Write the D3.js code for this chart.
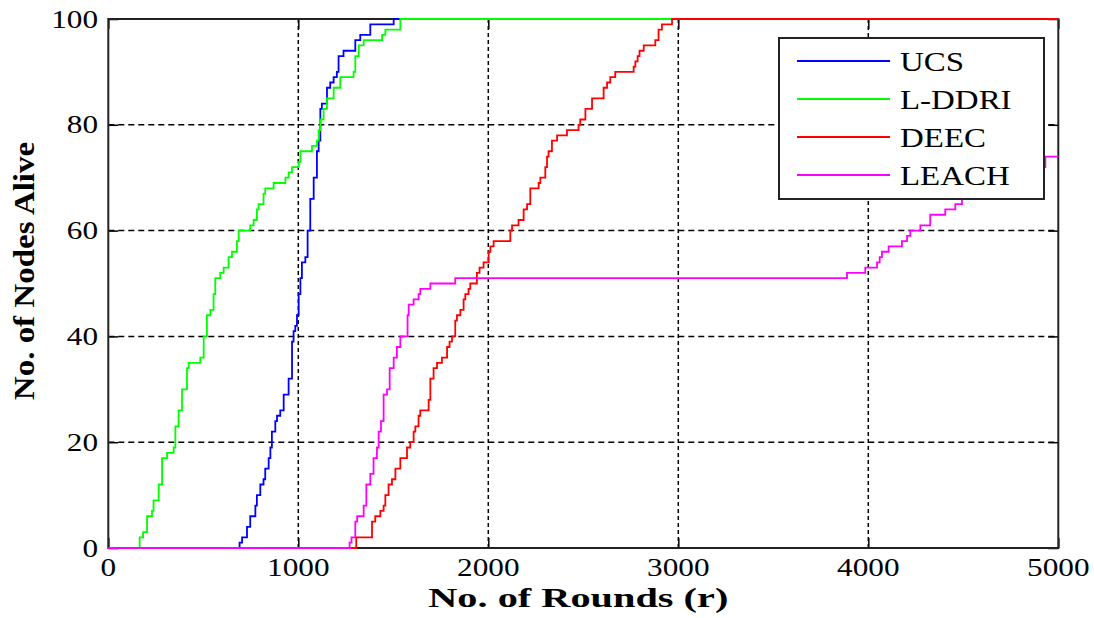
<!DOCTYPE html>
<html>
<head>
<meta charset="utf-8">
<script src="https://cdn.jsdelivr.net/npm/d3@7"></script>
<style>
  html, body { margin: 0; padding: 0; background: #fff; }
  svg { display: block; }
</style>
</head>
<body>
<svg id="chart" width="1094" height="618"></svg>
<script>
// ---- Data (rounds, nodes alive) ----
const seriesNames = ["UCS", "L-DDRI", "DEEC", "LEACH"];
const seriesColors = ["#0000ff", "#00ff00", "#ff0000", "#ff00ff"];

const ucs = [[0,0],[691,1],[704,2],[730,4],[747,6],[774,8],[782,10],[800,12],[817,13],[826,15],[844,17],[853,19],[861,22],[879,24],[888,25],[905,26],[923,29],[949,32],[967,39],[975,41],[984,42],[993,44],[1002,48],[1011,51],[1019,54],[1037,55],[1049,60],[1063,66],[1081,70],[1098,75],[1107,77],[1116,83],[1124,84],[1151,87],[1168,88],[1186,89],[1203,90],[1212,93],[1238,94],[1300,96],[1326,97],[1379,99],[1502,100],[5000,100]];

const lddri = [[0,0],[165,2],[183,3],[204,6],[230,7],[238,9],[265,12],[283,17],[309,18],[344,19],[353,23],[370,26],[388,30],[414,34],[423,35],[484,36],[502,40],[519,44],[537,45],[554,48],[563,51],[589,52],[607,53],[633,55],[651,56],[677,58],[686,60],[747,61],[765,62],[782,64],[791,65],[817,67],[826,68],[870,69],[932,70],[949,71],[967,72],[1002,73],[1011,75],[1072,76],[1098,77],[1107,79],[1116,81],[1133,83],[1151,85],[1186,87],[1221,89],[1291,90],[1300,93],[1318,95],[1344,96],[1441,97],[1458,98],[1537,100],[5000,100]];

const deec = [[0,0],[1305,2],[1388,5],[1405,6],[1432,7],[1449,8],[1458,10],[1475,12],[1493,13],[1511,15],[1537,17],[1572,19],[1589,20],[1607,22],[1616,23],[1633,25],[1642,26],[1686,28],[1695,32],[1712,34],[1730,35],[1756,36],[1783,38],[1796,39],[1809,40],[1826,43],[1835,44],[1853,45],[1870,47],[1879,48],[1896,49],[1905,50],[1940,52],[1954,53],[1975,54],[2002,56],[2011,57],[2028,58],[2116,60],[2125,61],[2159,62],[2186,64],[2204,65],[2221,68],[2265,69],[2274,70],[2300,72],[2309,74],[2317,75],[2335,77],[2362,78],[2414,79],[2475,80],[2484,81],[2511,83],[2546,85],[2607,87],[2625,88],[2642,89],[2668,90],[2765,91],[2774,92],[2786,93],[2796,94],[2818,95],[2879,96],[2896,98],[2914,99],[2967,100],[5000,100]];

const leach = [[0,0],[1270,1],[1280,2],[1300,5],[1310,6],[1344,8],[1358,12],[1379,14],[1396,17],[1414,19],[1423,22],[1435,24],[1449,29],[1467,30],[1481,34],[1502,36],[1519,38],[1537,40],[1575,44],[1581,46],[1607,47],[1633,48],[1642,49],[1695,50],[1826,51],[3888,52],[3984,53],[4046,54],[4060,55],[4072,56],[4107,57],[4177,58],[4204,59],[4221,60],[4274,61],[4326,63],[4405,64],[4458,65],[4493,66],[4530,67],[4600,68],[4680,69],[4760,70],[4830,71],[4890,72],[4932,74],[5000,74]];

const xTicks = [0, 1000, 2000, 3000, 4000, 5000];
const yTicks = [0, 20, 40, 60, 80, 100];
const xTitle = "No. of Rounds (r)";
const yTitle = "No. of Nodes Alive";

// ---- Layout ----
const svg = d3.select("#chart");
const L = 108.3, R = 1058.3, T = 19, B = 548;
const x = d3.scaleLinear().domain([0, 5000]).range([L, R]);
const y = d3.scaleLinear().domain([0, 100]).range([B, T]);
const serif = "'Liberation Serif', 'Times New Roman', serif";

// grid
const grid = svg.append("g");
grid.selectAll("line.vg").data(xTicks.slice(1, -1)).enter().append("line")
  .attr("x1", d => x(d)).attr("x2", d => x(d)).attr("y1", T).attr("y2", B)
  .attr("stroke", "#000").attr("stroke-width", 1.5).attr("stroke-dasharray", "4,3");
grid.selectAll("line.hg").data(yTicks.slice(1, -1)).enter().append("line")
  .attr("x1", L).attr("x2", R).attr("y1", d => y(d)).attr("y2", d => y(d))
  .attr("stroke", "#000").attr("stroke-width", 1.5).attr("stroke-dasharray", "6,4");

// axes (ticks inside, on all four sides)
const tk = 10;
const axB = svg.append("g").attr("transform", `translate(0,${B})`)
  .call(d3.axisBottom(x).tickValues(xTicks).tickSize(-tk).tickFormat(""));
const axT = svg.append("g").attr("transform", `translate(0,${T})`)
  .call(d3.axisTop(x).tickValues(xTicks).tickSize(-tk).tickFormat(""));
const axL = svg.append("g").attr("transform", `translate(${L},0)`)
  .call(d3.axisLeft(y).tickValues(yTicks).tickSize(-tk).tickFormat(""));
const axR = svg.append("g").attr("transform", `translate(${R},0)`)
  .call(d3.axisRight(y).tickValues(yTicks).tickSize(-tk).tickFormat(""));
[axB, axT, axL, axR].forEach(a => {
  a.select(".domain").remove();
  a.selectAll(".tick line").attr("stroke", "#000").attr("stroke-width", 1.5);
});
svg.append("rect").attr("x", L).attr("y", T).attr("width", R - L).attr("height", B - T)
  .attr("fill", "none").attr("stroke", "#222").attr("stroke-width", 2);

// tick labels
svg.append("g").selectAll("text").data(xTicks).enter().append("text")
  .attr("transform", d => `translate(${x(d)},576) scale(1.25,1)`)
  .attr("text-anchor", "middle").attr("font-family", serif).attr("font-size", 25)
  .attr("fill", "#000").text(d => d);
svg.append("g").selectAll("text").data(yTicks).enter().append("text")
  .attr("transform", d => `translate(98,${y(d) + 8.5}) scale(1.2,1)`)
  .attr("text-anchor", "end").attr("font-family", serif).attr("font-size", 26)
  .attr("fill", "#000").text(d => d);

// axis titles
svg.append("text").attr("transform", `translate(${(L + R) / 2 - 5},607) scale(1.44,1)`)
  .attr("text-anchor", "middle").attr("font-family", serif).attr("font-size", 28)
  .attr("font-weight", "bold").attr("fill", "#000").text(xTitle);
svg.append("text").attr("transform", `translate(34,271) rotate(-90) scale(1.1,1)`)
  .attr("text-anchor", "middle").attr("font-family", serif).attr("font-size", 30)
  .attr("font-weight", "bold").attr("fill", "#000").text(yTitle);

// series
const line = d3.line().x(d => x(d[0])).y(d => y(d[1])).curve(d3.curveStepAfter);
const allSeries = [ucs, lddri, deec, leach];
svg.append("g").selectAll("path").data(allSeries).enter().append("path")
  .attr("d", d => line(d)).attr("fill", "none")
  .attr("stroke", (d, i) => seriesColors[i]).attr("stroke-width", 1.8)
  .attr("stroke-linejoin", "miter");

// legend
const lg = svg.append("g");
lg.append("rect").attr("x", 779).attr("y", 38).attr("width", 265).attr("height", 161)
  .attr("fill", "#fff").attr("stroke", "#222").attr("stroke-width", 2);
const rows = [61, 99, 137, 175];
seriesNames.forEach((name, i) => {
  lg.append("line").attr("x1", 797).attr("x2", 890).attr("y1", rows[i]).attr("y2", rows[i])
    .attr("stroke", seriesColors[i]).attr("stroke-width", 1.8);
  lg.append("text").attr("transform", `translate(900,${rows[i] + 9.5}) scale(1.22,1)`)
    .attr("font-family", serif).attr("font-size", 27).attr("fill", "#000").text(name);
});
</script>
</body>
</html>
